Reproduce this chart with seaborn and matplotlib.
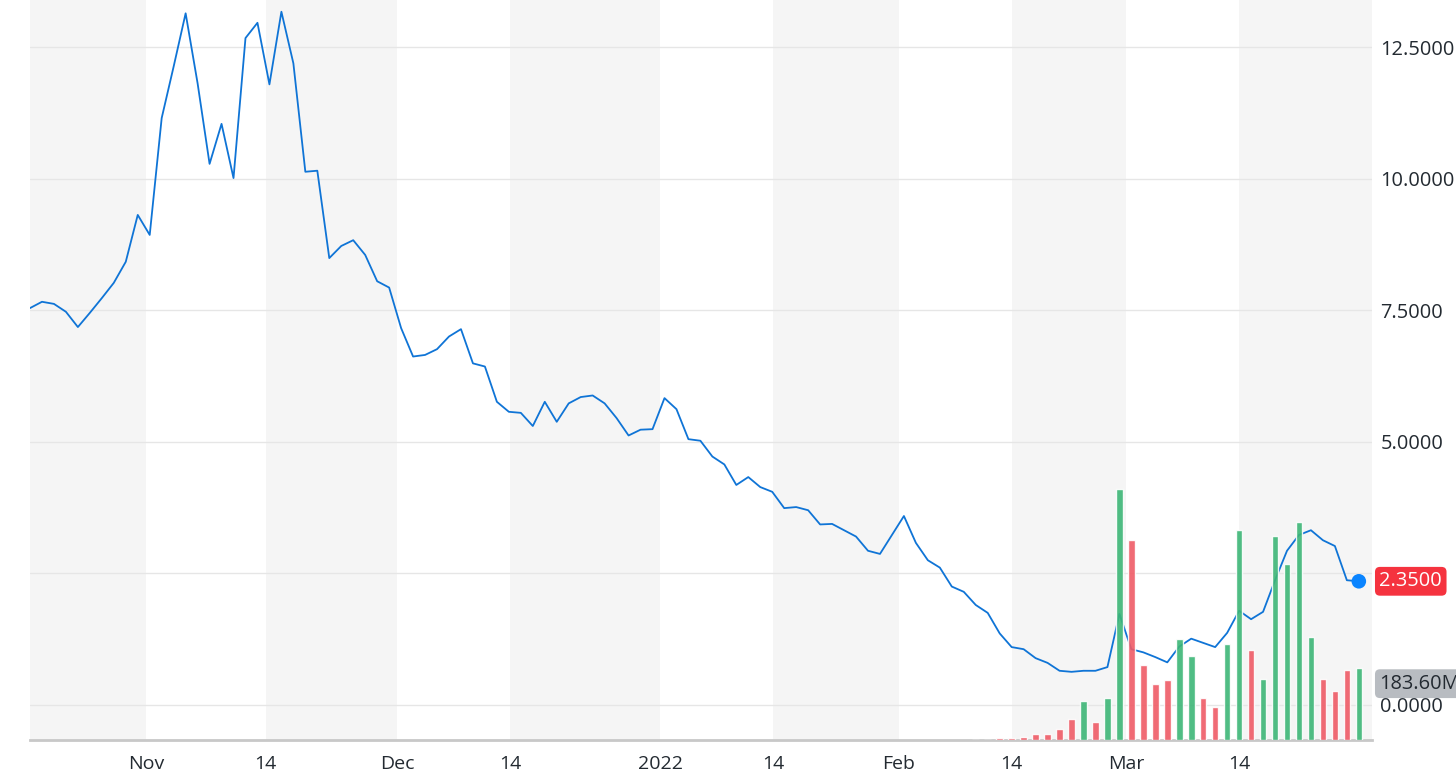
import numpy as np
import pandas as pd
import matplotlib.pyplot as plt
import matplotlib.transforms as mtransforms
import seaborn as sns

# daily close, one value per trading day (Oct 18 -> Mar 28)
price = [7.54, 7.66, 7.62, 7.47, 7.18, 7.45, 7.73, 8.02, 8.42, 9.31,
         8.93, 11.15, 12.13, 13.14, 11.81, 10.28, 11.04, 10.01, 12.67, 12.96,
         11.79, 13.17, 12.19, 10.13, 10.15, 8.49, 8.72, 8.83, 8.55, 8.05,
         7.93, 7.16, 6.62, 6.65, 6.76, 7.00, 7.14, 6.49, 6.43, 5.76,
         5.57, 5.55, 5.30, 5.76, 5.38, 5.73, 5.85, 5.88, 5.73, 5.45,
         5.12, 5.23, 5.24, 5.83, 5.62, 5.05, 5.02, 4.72, 4.57, 4.18,
         4.33, 4.14, 4.05, 3.74, 3.76, 3.70, 3.43, 3.44, 3.32, 3.20,
         2.93, 2.87, 3.23, 3.59, 3.08, 2.75, 2.61, 2.25, 2.15, 1.90,
         1.75, 1.36, 1.10, 1.06, 0.89, 0.80, 0.65, 0.63, 0.65, 0.65,
         0.72, 1.73, 1.06, 1.00, 0.91, 0.81, 1.11, 1.26, 1.18, 1.10,
         1.37, 1.79, 1.63, 1.77, 2.37, 2.93, 3.23, 3.32, 3.13, 3.02,
         2.37, 2.35]

# volume (millions) only shows up from day 79 on
vol_start = 79
volume = [1, 1, 4, 4, 7, 15, 15, 27, 53, 100, 46, 107, 641, 510, 191, 142,
          152, 258, 214, 107, 84, 245, 537, 230, 157, 522, 449, 557, 264,
          157, 126, 180, 183.6]
direction = ["dn", "dn", "dn", "dn", "dn", "dn", "dn", "dn", "dn", "up",
             "dn", "up", "up", "dn", "dn", "dn", "dn", "up", "up", "dn",
             "dn", "up", "up", "dn", "up", "up", "up", "up", "up", "dn",
             "dn", "dn", "up"]

tick_labels = ["Nov", "14", "Dec", "14", "2022", "14", "Feb", "14", "Mar", "14"]
tick_locs = [9.67, 19.68, 30.69, 40.08, 52.63, 62.1, 72.58, 82.0, 91.56, 101.0]
price_ticks = [0.0, 2.5, 5.0, 7.5, 10.0, 12.5]

df = pd.DataFrame({"day": np.arange(len(price)), "price": price})
vdf = pd.DataFrame({"day": np.arange(vol_start, vol_start + len(volume)),
                    "vol": volume, "dir": direction})

sns.set_theme(style="white")
plt.rcParams["font.family"] = ["Open Sans", "DejaVu Sans"]

W, H = 1456, 784
fig = plt.figure(figsize=(W / 100, H / 100), dpi=100)
ax = fig.add_axes([30 / W, 44 / H, 1342 / W, 740 / H])
xmax = 112.1

# alternating bands between month/mid-month ticks
edges = [0] + tick_locs + [xmax]
for k in range(0, len(edges) - 1, 2):
    ax.axvspan(edges[k], edges[k + 1], color="#f5f5f5", lw=0, zorder=0)

for t in price_ticks:
    ax.axhline(t, color="#e6e6e6", lw=1, zorder=1)

sns.lineplot(data=df, x="day", y="price", ax=ax, color="#0f74d6", lw=1.3, zorder=3)
sns.scatterplot(x=[df["day"].iloc[-1]], y=[price[-1]], ax=ax, color="#0a84ff",
                s=110, edgecolor="none", zorder=4)

# volume bars on a twin axis
axv = ax.twinx()
sns.barplot(data=vdf, x="day", y="vol", hue="dir", ax=axv, native_scale=True,
            palette={"up": "#3db677", "dn": "#ef5b66"}, width=0.55, dodge=False,
            saturation=1, alpha=0.9, errorbar=None, legend=False)
axv.set_xlim(0, xmax)
axv.set_ylim(0, 1890)
axv.set_yticks([])
axv.set_xlabel("")
axv.set_ylabel("")
for s in axv.spines.values():
    s.set_visible(False)

ax.set_xlim(0, xmax)
ax.set_ylim(-0.665, 13.393)
ax.set_xlabel("")
ax.set_ylabel("")
ax.set_xticks(tick_locs)
ax.set_xticklabels(tick_labels)
ax.yaxis.tick_right()
ax.set_yticks(price_ticks)
ax.set_yticklabels(["" if t == 2.5 else f"{t:.4f}" for t in price_ticks])
ax.tick_params(axis="y", length=0, pad=6, labelsize=14.4, labelcolor="#232a31")
ax.tick_params(axis="x", length=6, width=1, color="#c8c8c8", pad=5,
               labelsize=14, labelcolor="#232a31", direction="out")
for s in ["top", "right", "left"]:
    ax.spines[s].set_visible(False)
ax.spines["bottom"].set_color("#c8c8c8")
ax.spines["bottom"].set_linewidth(2)

tr = mtransforms.blended_transform_factory(ax.transAxes, ax.transData)
ax.text(1.0055, price[-1], f"{price[-1]:.4f}", transform=tr, va="center", ha="left",
        fontsize=14.4, color="white", clip_on=False, zorder=10,
        bbox=dict(boxstyle="round,pad=0.22,rounding_size=0.25", fc="#f5333f", ec="none"))
# volume tag hangs just below the top of the last bar
trv = mtransforms.blended_transform_factory(axv.transAxes, axv.transData)
trv = trv + mtransforms.ScaledTranslation(0, -4 / 72, fig.dpi_scale_trans)
axv.text(1.0055, volume[-1], f"{volume[-1]:.2f}M", transform=trv, va="top", ha="left",
         fontsize=14.4, color="#232a31", clip_on=False, zorder=10,
         bbox=dict(boxstyle="round,pad=0.22,rounding_size=0.25", fc="#b8bcc1", ec="none"))

fig.savefig("out.png", dpi=100)
